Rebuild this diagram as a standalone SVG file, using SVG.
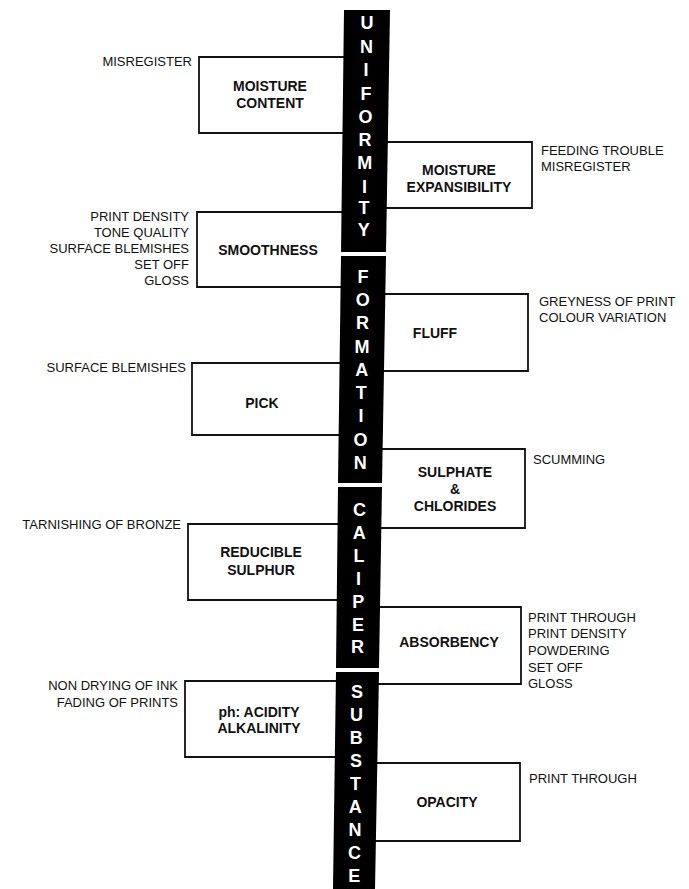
<svg xmlns="http://www.w3.org/2000/svg" width="689" height="889" viewBox="0 0 689 889">
<style>
.box{fill:none;stroke:#111;stroke-width:1.8;stroke-linejoin:miter}
.bt{font-family:"Liberation Sans",Arial,sans-serif;font-weight:bold;font-size:14px;fill:#111;text-anchor:middle}
.lb{font-family:"Liberation Sans",Arial,sans-serif;font-size:13px;fill:#111}
.lr{text-anchor:end}
.sp{fill:#000}
.sl{font-family:"Liberation Sans",Arial,sans-serif;font-weight:bold;font-size:18px;fill:#fff;text-anchor:middle}
</style>
<rect width="689" height="889" fill="#fff"/>
<g id="connectors"></g>

<g id="moisture-content">
<path class="box" d="M350,57 H199 V133 H350"/>
<text class="bt" x="270" y="91">MOISTURE</text>
<text class="bt" x="270" y="108">CONTENT</text>
<text class="lb lr" x="192" y="66">MISREGISTER</text>
</g>
<g id="moisture-expansibility">
<path class="box" d="M380,142 H532 V208 H380"/>
<text class="bt" x="459" y="175">MOISTURE</text>
<text class="bt" x="459" y="192">EXPANSIBILITY</text>
<text class="lb" x="541" y="155">FEEDING TROUBLE</text>
<text class="lb" x="541" y="171">MISREGISTER</text>
</g>
<g id="smoothness">
<path class="box" d="M350,212 H197 V287 H350"/>
<text class="bt" x="268" y="255">SMOOTHNESS</text>
<text class="lb lr" x="189" y="221">PRINT DENSITY</text>
<text class="lb lr" x="189" y="237">TONE QUALITY</text>
<text class="lb lr" x="189" y="253">SURFACE BLEMISHES</text>
<text class="lb lr" x="189" y="269">SET OFF</text>
<text class="lb lr" x="189" y="285">GLOSS</text>
</g>
<g id="fluff">
<path class="box" d="M375,294 H528 V371 H375"/>
<text class="bt" x="435" y="338">FLUFF</text>
<text class="lb" x="539" y="306">GREYNESS OF PRINT</text>
<text class="lb" x="539" y="322">COLOUR VARIATION</text>
</g>
<g id="pick">
<path class="box" d="M350,363 H192 V435 H350"/>
<text class="bt" x="262" y="408">PICK</text>
<text class="lb lr" x="186" y="372">SURFACE BLEMISHES</text>
</g>
<g id="sulphate-chlorides">
<path class="box" d="M372,449 H525 V528 H372"/>
<text class="bt" x="455" y="477">SULPHATE</text>
<text class="bt" x="455" y="494">&amp;</text>
<text class="bt" x="455" y="511">CHLORIDES</text>
<text class="lb" x="533" y="464">SCUMMING</text>
</g>
<g id="reducible-sulphur">
<path class="box" d="M345,524 H188 V600 H345"/>
<text class="bt" x="261" y="557">REDUCIBLE</text>
<text class="bt" x="261" y="575">SULPHUR</text>
<text class="lb lr" x="181" y="529">TARNISHING OF BRONZE</text>
</g>
<g id="absorbency">
<path class="box" d="M370,607 H521 V684 H370"/>
<text class="bt" x="449" y="647">ABSORBENCY</text>
<text class="lb" x="528" y="622">PRINT THROUGH</text>
<text class="lb" x="528" y="638">PRINT DENSITY</text>
<text class="lb" x="528" y="655">POWDERING</text>
<text class="lb" x="528" y="672">SET OFF</text>
<text class="lb" x="528" y="688">GLOSS</text>
</g>
<g id="ph-acidity-alkalinity">
<path class="box" d="M345,681 H185 V757 H345"/>
<text class="bt" x="259" y="717">ph: ACIDITY</text>
<text class="bt" x="259" y="733">ALKALINITY</text>
<text class="lb lr" x="178" y="690">NON DRYING OF INK</text>
<text class="lb lr" x="178" y="707">FADING OF PRINTS</text>
</g>
<g id="opacity">
<path class="box" d="M365,763 H520 V841 H365"/>
<text class="bt" x="447" y="807">OPACITY</text>
<text class="lb" x="529" y="783">PRINT THROUGH</text>
</g>

<g id="uniformity">
<polygon class="sp" points="344,10 390,10 386,252 341,252"/>
<text class="sl" x="367" y="29">U</text>
<text class="sl" x="366.5" y="53">N</text>
<text class="sl" x="366" y="76">I</text>
<text class="sl" x="366" y="100">F</text>
<text class="sl" x="365.5" y="123">O</text>
<text class="sl" x="365" y="146">R</text>
<text class="sl" x="364.7" y="169">M</text>
<text class="sl" x="364.4" y="193">I</text>
<text class="sl" x="364" y="214">T</text>
<text class="sl" x="363.7" y="236">Y</text>
</g>
<g id="formation">
<polygon class="sp" points="341,256 386,256 382,483 338,483"/>
<text class="sl" x="363" y="283">F</text>
<text class="sl" x="362.7" y="306">O</text>
<text class="sl" x="362.4" y="329">R</text>
<text class="sl" x="362" y="353">M</text>
<text class="sl" x="361.7" y="376">A</text>
<text class="sl" x="361.3" y="399">T</text>
<text class="sl" x="361" y="422">I</text>
<text class="sl" x="360.6" y="446">O</text>
<text class="sl" x="360.3" y="469">N</text>
</g>
<g id="caliper">
<polygon class="sp" points="338,487 382,487 379,668 336,668"/>
<text class="sl" x="359.6" y="516">C</text>
<text class="sl" x="359.3" y="539">A</text>
<text class="sl" x="358.9" y="562">L</text>
<text class="sl" x="358.6" y="585">I</text>
<text class="sl" x="358.2" y="608">P</text>
<text class="sl" x="357.9" y="631">E</text>
<text class="sl" x="357.6" y="653">R</text>
</g>
<g id="substance">
<polygon class="sp" points="336,672 379,672 375,889 333,889"/>
<text class="sl" x="356.9" y="698">S</text>
<text class="sl" x="356.6" y="721">U</text>
<text class="sl" x="356.2" y="744">B</text>
<text class="sl" x="355.9" y="767">S</text>
<text class="sl" x="355.5" y="790">T</text>
<text class="sl" x="355.2" y="813">A</text>
<text class="sl" x="354.9" y="836">N</text>
<text class="sl" x="354.5" y="859">C</text>
<text class="sl" x="354.2" y="882">E</text>
</g>
</svg>
